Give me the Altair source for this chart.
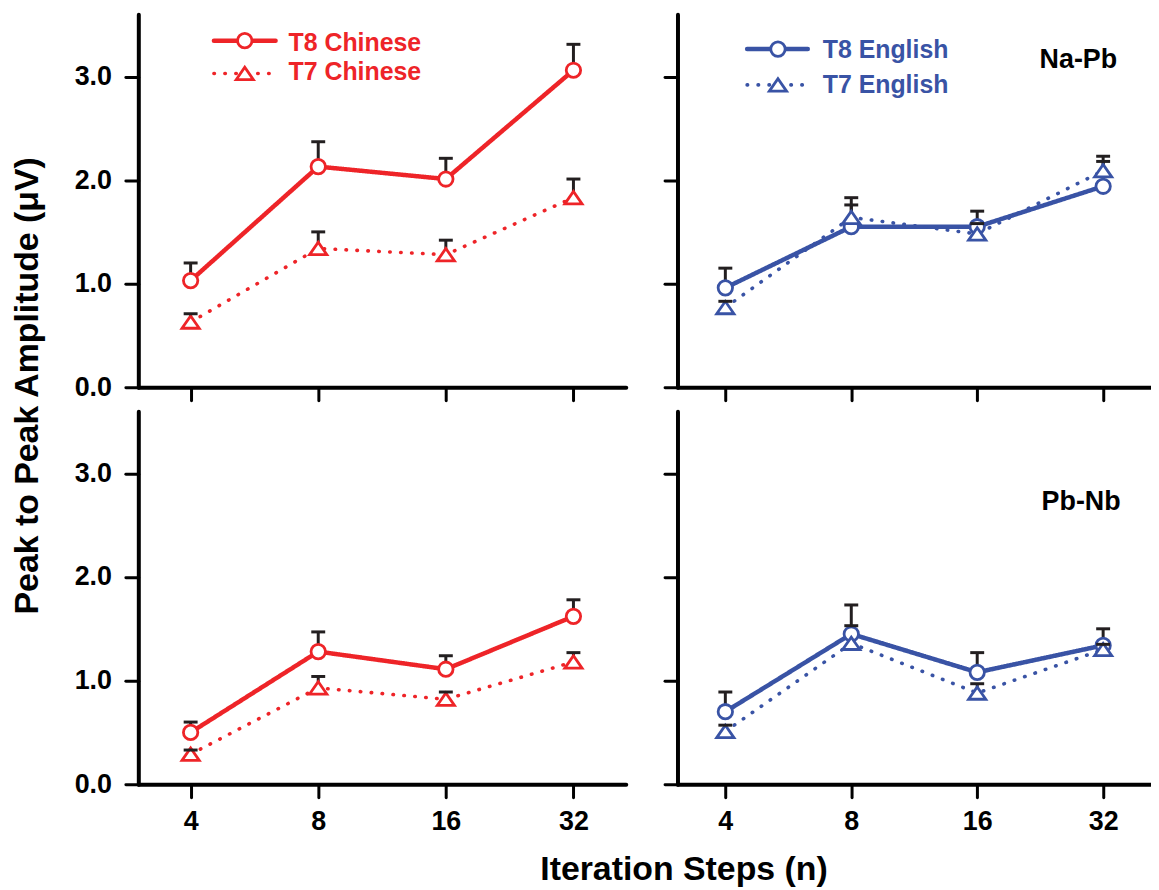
import altair as alt
import pandas as pd

# ---------------- data ----------------
steps = ["4", "8", "16", "32"]
series_names = ["T8", "T7"]

na_pb_t8_chinese = [1.03, 2.13, 2.01, 3.06]
na_pb_t8_chinese_sem = [0.17, 0.24, 0.20, 0.25]
na_pb_t7_chinese = [0.63, 1.34, 1.28, 1.83]
na_pb_t7_chinese_sem = [0.08, 0.16, 0.14, 0.18]

na_pb_t8_english = [0.96, 1.55, 1.55, 1.94]
na_pb_t8_english_sem = [0.19, 0.28, 0.15, 0.24]
na_pb_t7_english = [0.77, 1.64, 1.48, 2.09]
na_pb_t7_english_sem = [0.06, 0.12, 0.10, 0.14]

pb_nb_t8_chinese = [0.50, 1.28, 1.11, 1.62]
pb_nb_t8_chinese_sem = [0.10, 0.19, 0.13, 0.16]
pb_nb_t7_chinese = [0.29, 0.93, 0.82, 1.18]
pb_nb_t7_chinese_sem = [0.04, 0.11, 0.07, 0.09]

pb_nb_t8_english = [0.70, 1.45, 1.08, 1.34]
pb_nb_t8_english_sem = [0.19, 0.28, 0.19, 0.16]
pb_nb_t7_english = [0.51, 1.36, 0.88, 1.30]
pb_nb_t7_english_sem = [0.06, 0.17, 0.09, 0.05]

y_ticks = [0, 1, 2, 3]

rows = []


def add(panel, lang, series, vals, sems):
    for s, v, e in zip(steps, vals, sems):
        rows.append(dict(panel=panel, lang=lang, series=series, step=s,
                         value=v, top=round(v + e, 3)))


add("Na-Pb", "Chinese", "T8", na_pb_t8_chinese, na_pb_t8_chinese_sem)
add("Na-Pb", "Chinese", "T7", na_pb_t7_chinese, na_pb_t7_chinese_sem)
add("Na-Pb", "English", "T8", na_pb_t8_english, na_pb_t8_english_sem)
add("Na-Pb", "English", "T7", na_pb_t7_english, na_pb_t7_english_sem)
add("Pb-Nb", "Chinese", "T8", pb_nb_t8_chinese, pb_nb_t8_chinese_sem)
add("Pb-Nb", "Chinese", "T7", pb_nb_t7_chinese, pb_nb_t7_chinese_sem)
add("Pb-Nb", "English", "T8", pb_nb_t8_english, pb_nb_t8_english_sem)
add("Pb-Nb", "English", "T7", pb_nb_t7_english, pb_nb_t7_english_sem)
df = pd.DataFrame(rows)

# ---------------- styling ----------------
FONT = "Liberation Sans"
RED = "#EE2428"
BLUE = "#3953A5"
ERR = "#231F20"
TRI = "M-1,0.72L0,-0.72L1,0.72Z"
DOT = [0.5, 10.5]
H = 375
one = pd.DataFrame({"k": [0]})


def make_panel(panel, lang, color, width, pad, x_labels, y_labels,
               legend, tag, tag_xy, x_title=False, y_title=False):
    base = alt.Chart(df).transform_filter(
        (alt.datum.panel == panel) & (alt.datum.lang == lang))

    if x_title:
        xaxis = alt.Axis(labels=x_labels, title="Iteration Steps (n)",
                         titleFont=FONT, titleFontSize=34, titleFontWeight="bold",
                         titleColor="black", titleX=548, titleY=96,
                         titleAlign="center", titleBaseline="alphabetic",
                         titleAngle=0, labelAngle=0)
    else:
        xaxis = alt.Axis(labels=x_labels, title=None, labelAngle=0)
    if y_title:
        yaxis = alt.Axis(values=y_ticks, format=".1f", labels=y_labels,
                         title="Peak to Peak Amplitude (\u03bcV)",
                         titleFont=FONT, titleFontSize=34, titleFontWeight="bold",
                         titleColor="black", titleAngle=270, titleX=-101,
                         titleY=373, titleAlign="center",
                         titleBaseline="alphabetic")
    else:
        yaxis = alt.Axis(values=y_ticks, format=".1f", labels=y_labels, title=None)

    xs = alt.Scale(type="point", padding=pad)
    ys = alt.Scale(domain=[0, 3.6], nice=False, zero=True)
    x = alt.X("step:O", sort=steps, scale=xs, axis=xaxis)
    y = alt.Y("value:Q", scale=ys, axis=yaxis)
    ytop = alt.Y("top:Q", scale=ys, axis=yaxis)

    lines = base.mark_line(color=color, strokeCap="round", strokeJoin="round").encode(
        x=x, y=y,
        strokeDash=alt.StrokeDash("series:N", scale=alt.Scale(
            domain=series_names, range=[[1, 0], DOT]), legend=None),
        strokeWidth=alt.StrokeWidth("series:N", scale=alt.Scale(
            domain=series_names, range=[4.5, 3.6]), legend=None),
    )
    stems = base.mark_rule(color=ERR, strokeWidth=3).encode(
        x=x, y=y, y2=alt.Y2("top:Q"))
    points = base.mark_point(filled=True, fill="white", stroke=color,
                             strokeWidth=2.8, opacity=1).encode(
        x=x, y=y,
        shape=alt.Shape("series:N", scale=alt.Scale(
            domain=series_names, range=["circle", TRI]), legend=None),
        size=alt.Size("series:N", scale=alt.Scale(
            domain=series_names, range=[210, 300]), legend=None),
    )
    caps = base.mark_tick(color=ERR, thickness=3, size=14, orient="horizontal",
                          opacity=1).encode(x=x, y=ytop)

    layers = [lines, stems, points, caps]

    if legend is not None:
        (lx1, lx2, mx, tx), rowspec = legend
        for (label, ly, tb, dashed) in rowspec:
            if dashed:
                layers.append(alt.Chart(one).mark_rule(
                    color=color, strokeWidth=3.6, strokeDash=DOT, strokeCap="round"
                ).encode(x=alt.value(lx1), x2=alt.value(lx2), y=alt.value(ly)))
                shape, size = TRI, 300
            else:
                layers.append(alt.Chart(one).mark_rule(
                    color=color, strokeWidth=4.5, strokeCap="round"
                ).encode(x=alt.value(lx1), x2=alt.value(lx2), y=alt.value(ly)))
                shape, size = "circle", 210
            layers.append(alt.Chart(one).mark_point(
                shape=shape, size=size, filled=True, fill="white", stroke=color,
                strokeWidth=2.8, opacity=1
            ).encode(x=alt.value(mx), y=alt.value(ly)))
            layers.append(alt.Chart(one).mark_text(
                text=label, font=FONT, fontSize=25, fontWeight="bold", color=color,
                align="left", baseline="alphabetic"
            ).encode(x=alt.value(tx), y=alt.value(tb)))

    if tag is not None:
        layers.append(alt.Chart(one).mark_text(
            text=tag, font=FONT, fontSize=27, fontWeight="bold", color="black",
            align="left", baseline="alphabetic"
        ).encode(x=alt.value(tag_xy[0]), y=alt.value(tag_xy[1])))

    return alt.layer(*layers).properties(width=width, height=H)


W_L, W_R = 490, 476
P_L, P_R = 0.41, 0.38

tl = make_panel("Na-Pb", "Chinese", RED, W_L, P_L, False, True,
                ((76, 138, 107, 151),
                 [("T8 Chinese", 26.5, 36.5, False),
                  ("T7 Chinese", 59.5, 66.5, True)]),
                None, None, y_title=True)
tr = make_panel("Na-Pb", "English", BLUE, W_R, P_R, False, False,
                ((70, 131, 101, 146),
                 [("T8 English", 35, 44, False),
                  ("T7 English", 71, 79.5, True)]),
                "Na-Pb", (364, 53.5))
bl = make_panel("Pb-Nb", "Chinese", RED, W_L, P_L, True, True,
                None, None, None, x_title=True)
br = make_panel("Pb-Nb", "English", BLUE, W_R, P_R, True, False,
                None, "Pb-Nb", (366, 99))

chart = alt.concat(
    tl, tr, bl, br, columns=2, spacing={"row": 24, "column": 52}, bounds="flush"
).properties(
    padding={"left": 3, "top": 4, "right": 0, "bottom": 0}
).configure_view(stroke=None).configure_axis(
    grid=False,
    domainColor="black", domainWidth=4, domainCap="round",
    tickColor="black", tickWidth=3, tickSize=13, tickCap="round",
    labelFont=FONT, labelFontSize=27, labelFontWeight="bold", labelColor="black",
).configure_axisBottom(labelPadding=12).configure_axisLeft(labelPadding=14)

chart.save("out.html", embed_options={"renderer": "svg", "actions": False})
